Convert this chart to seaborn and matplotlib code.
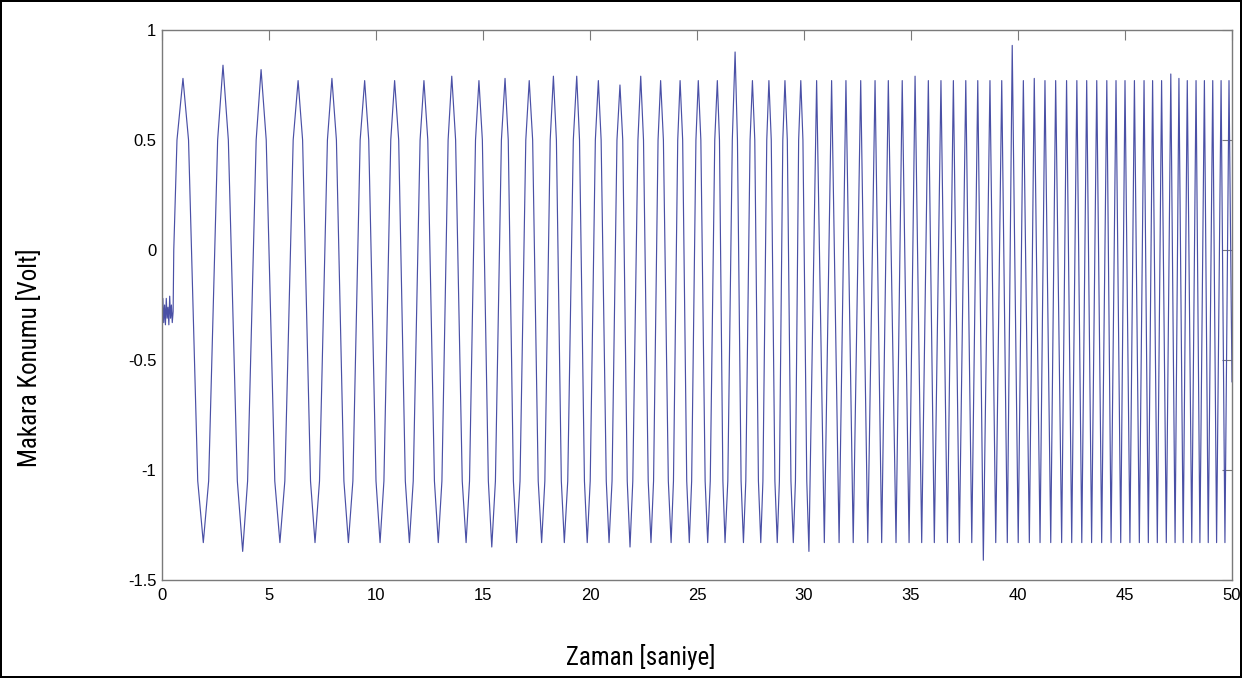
import numpy as np
import pandas as pd
import matplotlib
matplotlib.use("Agg")
import matplotlib.pyplot as plt
from matplotlib import font_manager
import seaborn as sns

# ---- data (time in s, value in V) ----
start_t = [0.00, 0.04, 0.08, 0.12, 0.16, 0.20, 0.24, 0.28, 0.32, 0.36, 0.40, 0.44, 0.48, 0.52, 0.55, 0.70]
start_v = [-0.30, -0.22, -0.33, -0.25, -0.34, -0.22, -0.31, -0.26, -0.34, -0.21, -0.31, -0.25, -0.33, -0.28, 0.00, 0.50]

peak_t = [0.98, 2.85, 4.63, 6.36, 7.94, 9.47, 10.87, 12.24, 13.54, 14.81, 16.03, 17.16,
          18.29, 19.38, 20.39, 21.40, 22.37, 23.30, 24.21, 25.06, 25.95, 26.78, 27.59,
          28.36, 29.11, 29.85, 30.59, 31.29, 31.96, 32.65, 33.32, 33.94, 34.59, 35.19,
          35.81, 36.40, 36.98, 37.56, 38.12, 38.69, 39.24, 39.73, 40.25, 40.76, 41.26,
          41.76, 42.27, 42.75, 43.21, 43.68, 44.15, 44.58, 45.00, 45.44, 45.89, 46.29,
          46.71, 47.14, 47.52, 47.91, 48.32, 48.71, 49.10, 49.49, 49.86]
peak_v = [0.78, 0.84, 0.82, 0.77, 0.78, 0.77, 0.77, 0.77, 0.79, 0.77, 0.78, 0.77,
          0.79, 0.79, 0.77, 0.75, 0.79, 0.77, 0.77, 0.77, 0.77, 0.90, 0.77,
          0.77, 0.77, 0.77, 0.77, 0.77, 0.77, 0.77, 0.77, 0.77, 0.77, 0.79,
          0.77, 0.77, 0.77, 0.77, 0.77, 0.77, 0.77, 0.93, 0.77, 0.78, 0.77,
          0.77, 0.77, 0.77, 0.77, 0.77, 0.77, 0.77, 0.77, 0.77, 0.77, 0.77,
          0.77, 0.80, 0.78, 0.77, 0.77, 0.77, 0.77, 0.77, 0.77]

trough_t = [1.93, 3.77, 5.51, 7.15, 8.71, 10.19, 11.56, 12.91, 14.21, 15.41, 16.57,
            17.74, 18.80, 19.87, 20.89, 21.87, 22.85, 23.79, 24.64, 25.50, 26.31,
            27.17, 27.98, 28.75, 29.50, 30.23, 30.95, 31.64, 32.30, 32.98, 33.63,
            34.30, 34.91, 35.50, 36.09, 36.70, 37.26, 37.84, 38.38, 38.96, 39.50,
            40.01, 40.53, 41.03, 41.53, 42.04, 42.51, 42.98, 43.44, 43.91, 44.35,
            44.80, 45.23, 45.67, 46.09, 46.51, 46.93, 47.34, 47.72, 48.12, 48.50,
            48.89, 49.28, 49.67]
trough_v = [-1.33, -1.37, -1.33, -1.33, -1.33, -1.33, -1.33, -1.33, -1.33, -1.35, -1.33,
            -1.33, -1.33, -1.33, -1.33, -1.35, -1.33, -1.33, -1.33, -1.33, -1.33,
            -1.33, -1.33, -1.33, -1.33, -1.37, -1.33, -1.33, -1.33, -1.33, -1.33,
            -1.33, -1.33, -1.33, -1.33, -1.33, -1.33, -1.33, -1.41, -1.33, -1.33,
            -1.33, -1.33, -1.33, -1.33, -1.33, -1.33, -1.33, -1.33, -1.33, -1.33,
            -1.33, -1.33, -1.33, -1.33, -1.33, -1.33, -1.33, -1.33, -1.33, -1.33,
            -1.33, -1.33, -1.33]

# times where the slow early cycles pass the
# upper shoulder level (0.5 V) and the lower shoulder level (-1.05 V)
hi_cross_t = [1.24, 2.60, 3.10, 4.40, 4.87, 6.13, 6.57, 7.73, 8.15, 9.26, 9.66,
              10.69, 11.06, 12.06, 12.42, 13.37, 13.72, 14.65, 14.97, 15.86, 16.18,
              17.00, 17.32, 18.14, 18.43, 19.22, 19.51, 20.25, 20.52, 21.26, 21.53,
              22.24, 22.50, 23.18, 23.43, 24.10, 24.33, 24.95, 25.18, 25.83, 26.05,
              26.65, 26.89, 27.48, 27.70, 28.26, 28.47, 29.01, 29.22, 29.75, 29.95]
hi_cross_v = [0.50] * len(hi_cross_t)
lo_cross_t = [1.67, 2.18, 3.52, 4.00, 5.27, 5.74, 6.94, 7.36, 8.50, 8.92, 10.00,
              10.37, 11.37, 11.74, 12.73, 13.08, 14.03, 14.37, 15.25, 15.58, 16.42,
              16.73, 17.58, 17.89, 18.66, 18.96, 19.74, 20.01, 20.76, 21.03, 21.74,
              22.00, 22.72, 22.97, 23.66, 23.90, 24.52, 24.75, 25.38, 25.62, 26.21,
              26.44, 27.06, 27.28, 27.87, 28.08, 28.64, 28.85, 29.39, 29.60, 30.13]
lo_cross_v = [-1.05] * len(lo_cross_t)

end_t = [50.0]
end_v = [-0.60]

x_ticks = [0, 5, 10, 15, 20, 25, 30, 35, 40, 45, 50]
y_ticks = [-1.5, -1, -0.5, 0, 0.5, 1]
y_tick_labels = ["-1.5", "-1", "-0.5", "0", "0.5", "1"]
x_label = "Zaman [saniye]"
y_label = "Makara Konumu [Volt]"

# ---- assemble the trace ----
df = pd.DataFrame({
    "t": start_t + peak_t + trough_t + hi_cross_t + lo_cross_t + end_t,
    "v": start_v + peak_v + trough_v + hi_cross_v + lo_cross_v + end_v,
}).sort_values("t").reset_index(drop=True)

sns.set_theme(style="white")
names = {f.name for f in font_manager.fontManager.ttflist}
label_font, label_size = "Liberation Sans", 16
for cand in ["Liberation Sans Narrow", "Roboto Condensed", "Open Sans Condensed", "Arial Narrow"]:
    if cand in names:
        label_font, label_size = cand, 18
        break
plt.rcParams["font.family"] = ["Liberation Sans", "DejaVu Sans"]
plt.rcParams["axes.unicode_minus"] = False

fig = plt.figure(figsize=(12.42, 6.78), dpi=100, facecolor="white",
                 edgecolor="black", linewidth=1.5)
ax = fig.add_axes([162 / 1242, 1 - 580 / 678, 1070 / 1242, 550 / 678])

sns.lineplot(data=df, x="t", y="v", ax=ax, color="#4a50a6", linewidth=0.85,
             estimator=None, sort=False)

ax.set_xlim(0, 50)
ax.set_ylim(-1.5, 1)
ax.set_xticks(x_ticks)
ax.set_xticklabels([str(v) for v in x_ticks])
ax.set_yticks(y_ticks)
ax.set_yticklabels(y_tick_labels)
ax.set_xlabel("")
ax.set_ylabel("")
for s in ax.spines.values():
    s.set_color("#7a7a7a")
    s.set_linewidth(1.0)
ax.tick_params(direction="in", top=True, right=True, length=7, width=0.8,
               color="#7a7a7a", labelsize=12, labelcolor="black")
ax.tick_params(axis="x", pad=6)
ax.tick_params(axis="y", pad=4)

fig.text(641 / 1242, 1 - 657 / 678, x_label, ha="center", va="center",
         fontsize=label_size, family=[label_font, "DejaVu Sans"], color="black")
fig.text(30 / 1242, 1 - 358 / 678, y_label, ha="center", va="center",
         rotation=90, fontsize=label_size, family=[label_font, "DejaVu Sans"], color="black")

fig.savefig("out.png", dpi=100, facecolor="white", edgecolor="black")
